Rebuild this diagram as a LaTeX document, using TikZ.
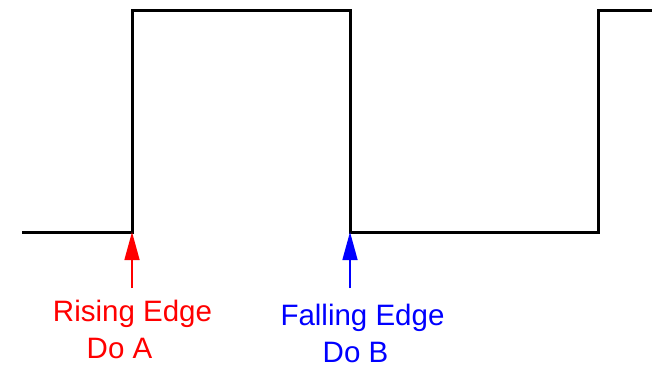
\documentclass[tikz,border=0pt]{standalone}
\usepackage{fontspec}
\setmainfont{Liberation Sans}
\usetikzlibrary{arrows.meta}
\tikzset{
  wave/.style={line width=3pt, line join=miter, black},
  edgearrow/.style={line width=1.5pt, -{Triangle[length=28pt,width=15pt]}},
  lbl/.style={anchor=base, inner sep=0pt, font=\fontsize{29.5}{36}\selectfont}
}
\begin{document}
\begin{tikzpicture}[x=1pt,y=-1pt]
\useasboundingbox (0,0) rectangle (652,366);
\coordinate (w0) at (22,232);
\coordinate (w1) at (132,232);
\coordinate (w2) at (132,11);
\coordinate (w3) at (350,11);
\coordinate (w4) at (350,232);
\coordinate (w5) at (598,232);
\coordinate (w6) at (598,11);
\coordinate (w7) at (654,11);
\draw[wave] (w0) -- (w1) -- (w2) -- (w3) -- (w4) -- (w5) -- (w6) -- (w7);
\coordinate (ra) at (132,288);
\coordinate (fa) at (350,288);
\draw[edgearrow, red] (ra) -- (w1);
\draw[edgearrow, blue] (fa) -- (w4);
\node[lbl, text=red] (r1) at (132.5,321) {Rising Edge};
\node[lbl, text=red] (r2) at (119.5,358) {Do A};
\node[lbl, text=blue] (f1) at (362.5,325) {Falling Edge};
\node[lbl, text=blue] (f2) at (355.5,362.5) {Do B};
\end{tikzpicture}
\end{document}
